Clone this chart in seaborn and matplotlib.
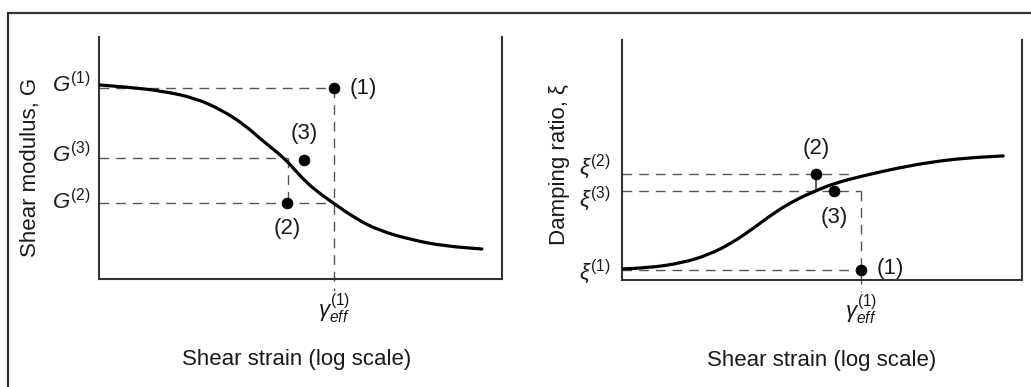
import numpy as np
import pandas as pd
import matplotlib
matplotlib.use("Agg")
import matplotlib.pyplot as plt
from matplotlib.patches import Rectangle, PathPatch
from matplotlib.path import Path
import matplotlib.transforms as mtransforms
import seaborn as sns

# ---------------- data (abstract units, 0-100 on both axes) ----------------
# Left panel: shear modulus vs log shear strain
g_strain = [0.0, 7.2, 15.6, 23.8, 30.5, 36.2, 40.4, 44.4, 46.9, 50.4, 53.6,
            58.1, 63.5, 69.2, 77.7, 85.9, 95.0]
g_modulus = [80.2, 79.3, 77.7, 74.8, 69.8, 63.6, 57.4, 52.1, 48.3, 41.7, 36.8,
             31.4, 25.2, 20.2, 16.1, 13.6, 12.4]
g_pt_labels = ["(1)", "(2)", "(3)"]
g_pt_x = [58.3, 46.7, 50.9]
g_pt_y = [78.9, 31.4, 49.2]
g_levels = [78.9, 31.4, 50.0]          # G(1), G(2), G(3)
g_tick_labels = [r"$G^{(1)}$", r"$G^{(2)}$", r"$G^{(3)}$"]
g_gamma_eff = 58.3
g_iter_x = 46.9                       # strain where G(3) meets the curve

# Right panel: damping ratio vs log shear strain
d_strain = [0.0, 6.5, 15.0, 21.5, 27.5, 33.3, 38.3, 43.3, 48.3, 53.3, 60.0,
            69.0, 77.5, 85.8, 95.3]
d_ratio = [4.6, 5.0, 7.1, 10.4, 15.4, 22.1, 28.3, 33.3, 37.1, 40.4, 43.3,
           46.7, 49.2, 50.8, 51.7]
d_pt_labels = ["(1)", "(2)", "(3)"]
d_pt_x = [59.75, 48.5, 53.0]
d_pt_y = [4.2, 44.2, 37.1]
d_levels = [4.2, 44.2, 37.1]           # xi(1), xi(2), xi(3)
d_tick_labels = [r"$\xi^{(1)}$", r"$\xi^{(2)}$", r"$\xi^{(3)}$"]
d_gamma_eff = 59.75
d_xi2_end = 57.5

x_tick_label = r"$\gamma^{(1)}_{eff}$"
x_label = "Shear strain (log scale)"
g_ylabel = "Shear modulus, G"
d_ylabel = "Damping ratio, ξ"

# ---------------- style ----------------
sns.set_theme(style="white")
plt.rcParams["font.family"] = ["Liberation Sans", "DejaVu Sans"]
plt.rcParams["mathtext.fontset"] = "custom"
plt.rcParams["mathtext.rm"] = "Liberation Sans"
plt.rcParams["mathtext.it"] = "Liberation Sans:italic"
plt.rcParams["mathtext.bf"] = "Liberation Sans:bold"

TXT = "#1a1a1a"
DASH = dict(color="#555555", lw=1.0, linestyle=(0, (7, 5)))
FS = 16

fig = plt.figure(figsize=(10.31, 3.87), dpi=100)
axL = fig.add_axes([99 / 1031, 1 - 279 / 387, 403 / 1031, 242 / 387])
axR = fig.add_axes([622 / 1031, 1 - 280 / 387, 400 / 1031, 240 / 387])

# outer frame of the figure
fig.add_artist(Rectangle((8 / 1031, -0.2), 1.2, 1.2 - 13 / 387,
                         transform=fig.transFigure, fill=False,
                         edgecolor="#333333", lw=1.6, clip_on=False))


def style_axes(ax):
    ax.set_xlim(0, 100)
    ax.set_ylim(0, 100)
    for side in ["left", "bottom", "right"]:
        ax.spines[side].set_visible(True)
        ax.spines[side].set_color("#333333")
        ax.spines[side].set_linewidth(1.5)
    ax.spines["top"].set_visible(False)
    ax.tick_params(axis="both", length=0, colors=TXT, labelsize=FS)


def smooth_curve(ax, xs, ys):
    """Draw a smooth (quadratic Bezier) curve through the read points."""
    pts = list(zip(xs, ys))
    verts = [pts[0]]
    codes = [Path.MOVETO]
    for i in range(1, len(pts) - 1):
        mid = ((pts[i][0] + pts[i + 1][0]) / 2, (pts[i][1] + pts[i + 1][1]) / 2)
        verts += [pts[i], mid]
        codes += [Path.CURVE3, Path.CURVE3]
    verts.append(pts[-1])
    codes.append(Path.LINETO)
    ax.add_patch(PathPatch(Path(verts, codes), fill=False, edgecolor="black",
                           lw=2.3, capstyle="round", joinstyle="round",
                           zorder=3))


def shift_ticklabels(ax, shifts):
    for lab, dy in zip(ax.get_yticklabels(), shifts):
        off = mtransforms.ScaledTranslation(0, dy / 72, fig.dpi_scale_trans)
        lab.set_transform(lab.get_transform() + off)


def annotate_points(ax, labels, xs, ys, offs):
    for lab, x, y in zip(labels, xs, ys):
        dx, dy, ha = offs[lab]
        ax.annotate(lab, (x, y), xytext=(dx, dy), textcoords="offset points",
                    ha=ha, va="center", fontsize=FS, color=TXT)


# ---------------- left panel ----------------
ax = axL
style_axes(ax)
smooth_curve(ax, g_strain, g_modulus)
ax.plot([0, g_gamma_eff], [g_levels[0]] * 2, **DASH)
ax.plot([0, g_gamma_eff], [g_levels[1]] * 2, **DASH)
ax.plot([0, g_iter_x], [g_levels[2]] * 2, **DASH)
ax.plot([g_gamma_eff] * 2, [g_levels[0], -5], clip_on=False, **DASH)
ax.plot([g_iter_x] * 2, [g_levels[2], g_levels[1]], **DASH)
sns.scatterplot(x=g_pt_x, y=g_pt_y, ax=ax, color="black", s=60,
                edgecolor="black", zorder=5, legend=False)
annotate_points(ax, g_pt_labels, g_pt_x, g_pt_y,
                {"(1)": (11, 0, "left"), "(2)": (0, -18, "center"),
                 "(3)": (0, 19, "center")})
ax.set_yticks(g_levels)
ax.set_yticklabels(g_tick_labels)
ax.tick_params(axis="y", pad=6)
shift_ticklabels(ax, [4, 3, 4])
ax.set_xticks([g_gamma_eff])
ax.set_xticklabels([x_tick_label])
ax.tick_params(axis="x", pad=9)
ax.set_xlabel(x_label, fontsize=FS, color=TXT)
ax.xaxis.set_label_coords(0.49, -0.29)
ax.xaxis.label.set_va("top")
ax.set_ylabel(g_ylabel, fontsize=FS, color=TXT)
ax.yaxis.set_label_coords(-0.145, 0.46)

# ---------------- right panel ----------------
ax = axR
style_axes(ax)
smooth_curve(ax, d_strain, d_ratio)
ax.plot([0, d_gamma_eff], [d_levels[0]] * 2, **DASH)
ax.plot([0, d_xi2_end], [d_levels[1]] * 2, **DASH)
ax.plot([0, d_gamma_eff], [d_levels[2]] * 2, **DASH)
ax.plot([d_gamma_eff] * 2, [d_levels[2], -5], clip_on=False, **DASH)
ax.plot([d_pt_x[1]] * 2, [d_levels[1], d_levels[2]], color="#333333", lw=1.1)
sns.scatterplot(x=d_pt_x, y=d_pt_y, ax=ax, color="black", s=60,
                edgecolor="black", zorder=5, legend=False)
annotate_points(ax, d_pt_labels, d_pt_x, d_pt_y,
                {"(1)": (11, 1, "left"), "(2)": (0, 18, "center"),
                 "(3)": (0, -19, "center")})
ax.set_yticks(d_levels)
ax.set_yticklabels(d_tick_labels)
ax.tick_params(axis="y", pad=8)
shift_ticklabels(ax, [1, 8, -3])
ax.set_xticks([d_gamma_eff])
ax.set_xticklabels([x_tick_label])
ax.tick_params(axis="x", pad=9)
ax.set_xlabel(x_label, fontsize=FS, color=TXT)
ax.xaxis.set_label_coords(0.5, -0.29)
ax.xaxis.label.set_va("top")
ax.set_ylabel(d_ylabel, fontsize=FS, color=TXT)
ax.yaxis.set_label_coords(-0.13, 0.48)

fig.savefig("out.png", dpi=100, facecolor="white")
